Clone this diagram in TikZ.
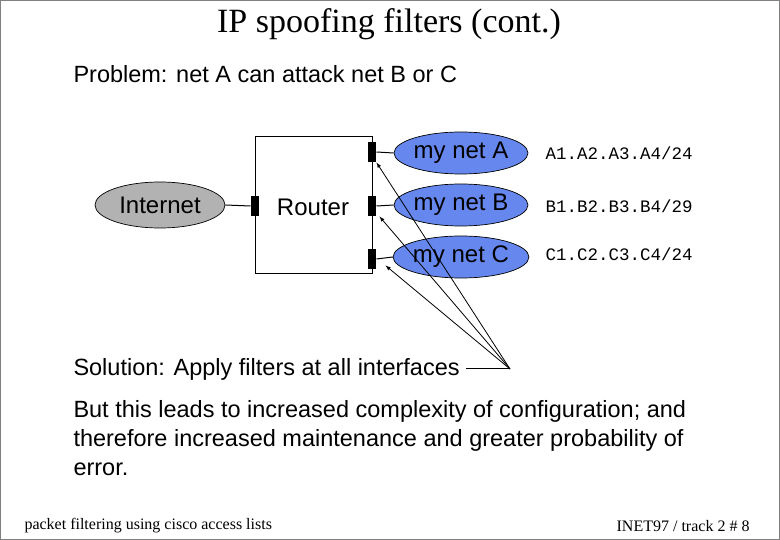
\documentclass[tikz,border=0pt]{standalone}
\usepackage{fontspec}
\setmainfont{Liberation Sans}
\newfontfamily\tnr{Liberation Serif}
\newfontfamily\cour{Liberation Mono}
\usetikzlibrary{shapes.geometric}
\begin{document}
\begin{tikzpicture}[x=1pt,y=-1pt,line width=1pt,
  netell/.style={ellipse,draw,line width=0.7pt,fill=netblue,minimum width=120pt,minimum height=42pt,inner sep=0pt,font=\fontsize{24}{26}\selectfont},
  iface/.style={fill=black,minimum width=8pt,minimum height=20pt,inner sep=0pt},
  txt/.style={anchor=west,inner sep=0pt,font=\fontsize{23.5}{29}\selectfont},
  addr/.style={anchor=west,inner sep=0pt,font=\cour\fontsize{17.5}{19}\selectfont},
  arr/.style={->,>=latex,line width=0.8pt}]
\definecolor{netblue}{RGB}{102,136,238}
\path[use as bounding box] (0,0) rectangle (780,540);
\draw[gray,line width=0.6pt] (0.5,0.5) rectangle (779.5,539.5);
\node[font=\tnr\fontsize{34}{36}\selectfont] (title) at (389,24) {IP spoofing filters (cont.)};
\node[txt] (prob) at (73,74) {Problem: net A can attack net B or C};
\node[draw,minimum width=117pt,minimum height=137pt,inner sep=0pt] (router) at (313.5,205.5) {};
\node[font=\fontsize{24}{26}\selectfont] (rlabel) at (313,207) {Router};
\node[ellipse,draw,line width=0.7pt,fill=gray!60,minimum width=130pt,minimum height=46pt,inner sep=0pt,font=\fontsize{24}{26}\selectfont] (inet) at (160,205) {Internet};
\node[iface] (il) at (255,206) {};
\node[iface] (ia) at (372,152) {};
\node[iface] (ib) at (372,206) {};
\node[iface] (ic) at (372,259) {};
\node[netell] (na) at (461,153) {my net A};
\node[netell] (nb) at (461,205) {my net B};
\node[netell] (nc) at (461,257) {my net C};
\draw (inet.east) -- (il.west);
\draw (ia.east) -- (na.west);
\draw (ib.east) -- (nb.west);
\draw (ic.east) -- (nc.west);
\node[addr] (aa) at (545,153) {A1.A2.A3.A4/24};
\node[addr] (ab) at (545,206) {B1.B2.B3.B4/29};
\node[addr] (ac) at (545,254) {C1.C2.C3.C4/24};
\node[txt] (sol) at (73,369) {Solution: Apply filters at all interfaces};
\coordinate (apex) at (510,369);
\draw (sol.east) ++(6,0) coordinate (s0) -- (apex);
\draw[arr] (apex) -- (ia.south east);
\draw[arr] (apex) -- ([xshift=3pt]ib.south east);
\draw[arr] (apex) -- ([xshift=9pt,yshift=4pt]ic.south east);
\node[txt,align=left,anchor=north west] (but) at (73,400) {But this leads to increased complexity of configuration; and\\therefore increased maintenance and greater probability of\\error.};
\node[anchor=west,inner sep=0pt,font=\tnr\fontsize{16}{18}\selectfont] (foot1) at (24,526) {packet filtering using cisco access lists};
\node[anchor=east,inner sep=0pt,font=\tnr\fontsize{16}{18}\selectfont] (foot2) at (750,526) {INET97 / track 2 \# 8};
\end{tikzpicture}
\end{document}
